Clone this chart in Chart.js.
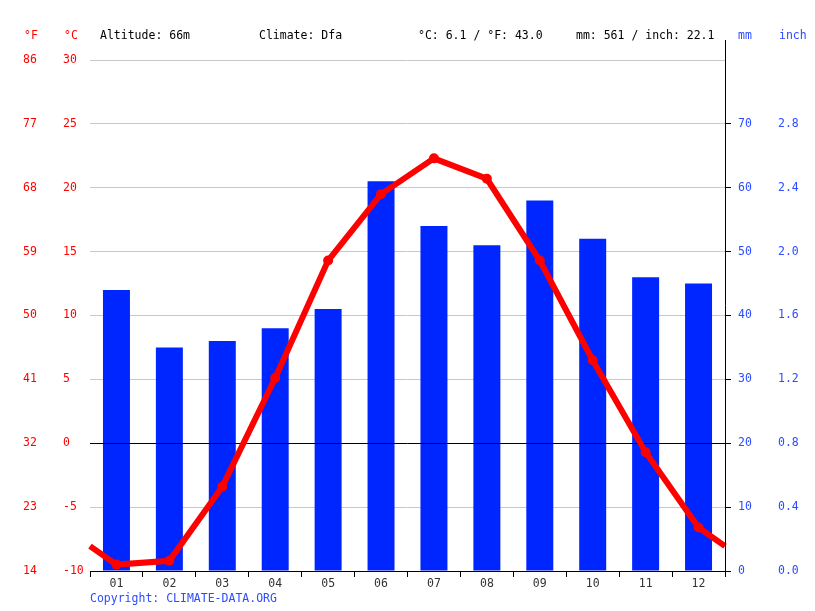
<!DOCTYPE html>
<html>
<head>
<meta charset="utf-8">
<script src="https://cdn.jsdelivr.net/npm/chart.js@4"></script>
<style>
  body { margin: 0; background: #fff; }
  #wrap { width: 815px; height: 611px; position: relative; }
</style>
</head>
<body>
<div id="wrap"><canvas id="chart"></canvas></div>
<script>
const months = ['01', '02', '03', '04', '05', '06', '07', '08', '09', '10', '11', '12']
const precipMm = [44, 35, 36, 38, 41, 61, 54, 51, 58, 52, 46, 45]
const tempC = [-9.5, -9.2, -3.4, 5.1, 14.3, 19.5, 22.3, 20.7, 14.3, 6.5, -0.7, -6.6]

const FONT = "'DejaVu Sans Mono', monospace"
const RED = '#ff0000'
const BLUE = '#2b4cff'

// the line runs out to both edges at the Dec/Jan midpoint
const edge = (tempC[11] + tempC[0]) / 2
const linePoints = [{x: 0, y: edge}]
tempC.forEach((t, i) => linePoints.push({x: i + 0.5, y: t}))
linePoints.push({x: 12, y: edge})
const pointRadius = linePoints.map((p, i) => (i === 0 || i === linePoints.length - 1) ? 0 : 5)

const decor = {
  id: 'decor',
  afterDatasetDraw(chart, args) {
    // black zero line sits over the bars but under the temperature line
    if (args.index !== 1) return
    const {ctx, chartArea: a} = chart
    const y = Math.round(chart.scales.c.getPixelForValue(0)) + 0.5
    ctx.save()
    ctx.strokeStyle = '#000'
    ctx.lineWidth = 1
    ctx.beginPath()
    ctx.moveTo(a.left, y)
    ctx.lineTo(a.right, y)
    ctx.stroke()
    ctx.restore()
  },
  afterDraw(chart) {
    const {ctx, chartArea: a} = chart
    ctx.save()
    ctx.font = '11.5px ' + FONT
    ctx.textBaseline = 'middle'
    ctx.textAlign = 'left'
    ctx.fillStyle = RED
    ctx.fillText('°F', 24, 36)
    ctx.fillText('°C', 64, 36)
    ctx.fillStyle = '#000'
    ctx.fillText('Altitude: 66m', 100, 36)
    ctx.fillText('Climate: Dfa', 259, 36)
    ctx.fillText('°C: 6.1 / °F: 43.0', 418, 36)
    ctx.fillText('mm: 561 / inch: 22.1', 576, 36)
    ctx.fillStyle = BLUE
    ctx.fillText('mm', 738, 36)
    ctx.fillText('inch', 779, 36)
    ctx.fillText('Copyright: CLIMATE-DATA.ORG', 90, 599)
    // right axis line, taller than the plot
    ctx.strokeStyle = '#000'
    ctx.lineWidth = 1
    ctx.beginPath()
    ctx.moveTo(Math.round(a.right) + 0.5, a.top - 20)
    ctx.lineTo(Math.round(a.right) + 0.5, a.bottom)
    ctx.stroke()
    ctx.restore()
  }
}

new Chart(document.getElementById('chart'), {
  data: {
    labels: months,
    datasets: [
      {
        type: 'line',
        data: linePoints,
        xAxisID: 'xl',
        yAxisID: 'c',
        borderColor: RED,
        backgroundColor: RED,
        borderWidth: 6,
        pointRadius: pointRadius,
        pointBackgroundColor: RED,
        pointBorderWidth: 0,
        tension: 0,
        clip: false,
        order: 0
      },
      {
        type: 'bar',
        data: precipMm,
        xAxisID: 'x',
        yAxisID: 'mm',
        backgroundColor: '#0026ff',
        grouped: false,
        barPercentage: 0.51,
        categoryPercentage: 1,
        order: 1
      }
    ]
  },
  options: {
    responsive: true,
    maintainAspectRatio: false,
    animation: false,
    layout: {padding: {left: 23, top: 60, right: 0, bottom: 0}},
    plugins: {legend: {display: false}, tooltip: {enabled: false}},
    scales: {
      x: {
        type: 'category',
        offset: true,
        grid: {offset: true, drawOnChartArea: false, tickLength: 6, color: '#000'},
        border: {color: '#000'},
        ticks: {color: '#333', font: {family: FONT, size: 11.5}, padding: 0},
        afterFit(s) { s.height = 40 }
      },
      xl: {type: 'linear', min: 0, max: 12, display: false},
      c: {
        position: 'left',
        weight: 1,
        min: -10,
        max: 30,
        ticks: {stepSize: 5, color: RED, crossAlign: 'far', font: {family: FONT, size: 11.5}},
        grid: {drawTicks: false, color: '#c8c8c8'},
        border: {display: false},
        afterFit(s) { s.width = 27 }
      },
      f: {
        position: 'left',
        weight: 2,
        min: 14,
        max: 86,
        ticks: {stepSize: 9, color: RED, crossAlign: 'far', font: {family: FONT, size: 11.5}},
        grid: {drawOnChartArea: false, drawTicks: false},
        border: {display: false},
        afterFit(s) { s.width = 40 }
      },
      mm: {
        position: 'right',
        weight: 1,
        min: 0,
        max: 80,
        ticks: {stepSize: 10, color: BLUE, padding: 7, font: {family: FONT, size: 11.5}},
        afterBuildTicks(s) { s.ticks = s.ticks.filter(t => t.value <= 70) },
        grid: {drawOnChartArea: false, tickLength: 6, color: '#000'},
        border: {display: false},
        afterFit(s) { s.width = 45 }
      },
      inch: {
        position: 'right',
        weight: 2,
        min: 0,
        max: 3.2,
        ticks: {stepSize: 0.4, color: BLUE, padding: 8, font: {family: FONT, size: 11.5}, callback: v => v.toFixed(1)},
        afterBuildTicks(s) { s.ticks = s.ticks.filter(t => t.value <= 2.81) },
        grid: {drawOnChartArea: false, drawTicks: false},
        border: {display: false},
        afterFit(s) { s.width = 45 }
      }
    }
  },
  plugins: [decor]
})
</script>
</body>
</html>
